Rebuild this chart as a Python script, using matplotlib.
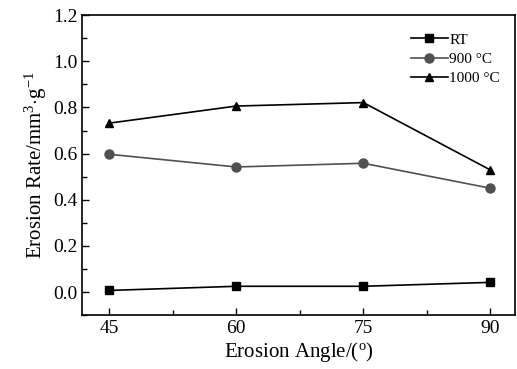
import numpy as np
import matplotlib.pyplot as plt
from matplotlib.ticker import MultipleLocator

plt.rcParams['font.family'] = ['Liberation Serif', 'DejaVu Serif']
plt.rcParams['mathtext.fontset'] = 'custom'
plt.rcParams['mathtext.rm'] = 'Liberation Serif'
plt.rcParams['mathtext.it'] = 'Liberation Serif:italic'

angles = [45, 60, 75, 90]
rt = [0.007, 0.025, 0.025, 0.042]
t900 = [0.597, 0.542, 0.558, 0.45]
t1000 = [0.732, 0.806, 0.821, 0.529]

fig = plt.figure(figsize=(5.17, 3.69), dpi=100)
ax = fig.add_axes([0.159, 0.146, 0.837, 0.813])

ax.plot(angles, rt, color='black', marker='s', markersize=6, lw=1.2, label='RT')
ax.plot(angles, t900, color='#505050', marker='o', markersize=6.5, lw=1.2, label='900 \u00b0C')
ax.plot(angles, t1000, color='black', marker='^', markersize=6, lw=1.2, label='1000 \u00b0C')

ax.set_xlim(41.8, 92.9)
ax.set_ylim(-0.1, 1.2)
ax.xaxis.set_major_locator(MultipleLocator(15))
ax.xaxis.set_minor_locator(MultipleLocator(7.5))
ax.yaxis.set_major_locator(MultipleLocator(0.2))
ax.yaxis.set_minor_locator(MultipleLocator(0.1))
ax.yaxis.set_major_formatter(plt.FormatStrFormatter('%.1f'))
ax.tick_params(which='both', direction='in', labelsize=14, width=1)
ax.tick_params(which='major', length=5)
ax.tick_params(which='minor', length=3.5)
for s in ax.spines.values():
    s.set_linewidth(1.2)

ax.set_xlabel('Erosion Angle/($^{\\rm o}$)', fontsize=15, labelpad=2)
ax.set_ylabel('Erosion Rate/mm$^3$$\\cdot$g$^{-1}$', fontsize=15, labelpad=3)

ax.legend(loc='upper right', frameon=False, fontsize=11, handlelength=2.4,
          handletextpad=0.1, labelspacing=0.35, borderpad=0, borderaxespad=0,
          bbox_to_anchor=(0.965, 0.94))

fig.savefig('out.png', dpi=100)
